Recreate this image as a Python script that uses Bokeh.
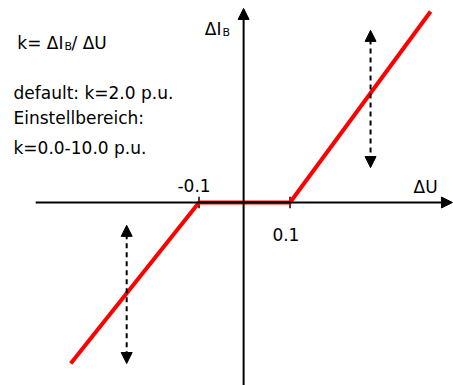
from bokeh.plotting import figure
from bokeh.models import Range1d, Arrow, NormalHead, Label
from bokeh.embed import file_html
from bokeh.resources import INLINE
from bokeh.core.properties import value

# characteristic curve (Delta U, Delta I_B)
u_curve = [-0.382, -0.1, 0.1, 0.409]
ib_curve = [-0.521, 0.0, 0.0, 0.618]

# dead-band ticks
tick_u = [-0.1, 0.1]
tick_labels = ["-0.1", "0.1"]

# adjustable-slope arrows (x, y_start, y_end)
adj_u = [-0.259, 0.277]
adj_y0 = [-0.074, 0.557]
adj_y1 = [-0.521, 0.113]

FONT = "DejaVu Sans"
FS = "17px"

p = figure(width=453, height=385, output_backend="svg", toolbar_location=None,
           x_range=Range1d(-0.5363, 0.4593), y_range=Range1d(-0.5922, 0.6537),
           min_border=0, outline_line_color=None)
p.axis.visible = False
p.grid.visible = False
p.background_fill_color = "white"
p.border_fill_color = "white"

# axes with arrows
p.add_layout(Arrow(x_start=-0.459, y_start=0, x_end=0.457, y_end=0,
                   line_width=2, line_color="black",
                   end=NormalHead(size=11, fill_color="black", line_color="black")))
p.add_layout(Arrow(x_start=-0.002, y_start=-0.6, x_end=-0.002, y_end=0.628,
                   line_width=2, line_color="black",
                   end=NormalHead(size=11, fill_color="black", line_color="black")))

# ticks
p.segment(x0=tick_u, y0=[-0.019] * 2, x1=tick_u, y1=[0.019] * 2,
          line_color="black", line_width=1.5)

# red characteristic
p.line(u_curve, ib_curve, line_color="#ff0000", line_width=4)

# dashed double arrows
for x, y0, y1 in zip(adj_u, adj_y0, adj_y1):
    p.add_layout(Arrow(x_start=x, y_start=y0, x_end=x, y_end=y1,
                       line_width=2, line_color="black", line_dash="5 4",
                       start=NormalHead(size=11, fill_color="black", line_color="black"),
                       end=NormalHead(size=11, fill_color="black", line_color="black")))

# tick labels
p.text(x=[tick_u[0] - 0.011], y=[0.055], text=[tick_labels[0]], text_align="center",
       text_baseline="alphabetic", text_font=value(FONT), text_font_size=FS, text_color="black")
p.text(x=[tick_u[1] - 0.009], y=[-0.104], text=[tick_labels[1]], text_align="center",
       text_baseline="alphabetic", text_font=value(FONT), text_font_size=FS, text_color="black")

H = 385  # screen helper: labels positioned in screen units

def lab(txt, sx, sy, size=FS, align="left"):
    p.add_layout(Label(x=sx, y=H - sy, x_units="screen", y_units="screen",
                       text=txt, text_font=FONT, text_font_size=size,
                       text_align=align, text_baseline="alphabetic", text_color="black"))

# axis titles
lab("\u0394I", 221, 28, align="right")
lab("B", 222, 32, size="11px")
lab("\u0394U", 413, 186)

# info block
lab("k= \u0394I", 63, 42, align="right")
lab("B", 64, 46, size="11px")
lab("/ \u0394U", 71, 42)
lab("default: k=2.0 p.u.", 13, 92)
lab("Einstellbereich:", 13, 117)
lab("k=0.0-10.0 p.u.", 13, 147)

open("out.html", "w").write(file_html(p, INLINE))
